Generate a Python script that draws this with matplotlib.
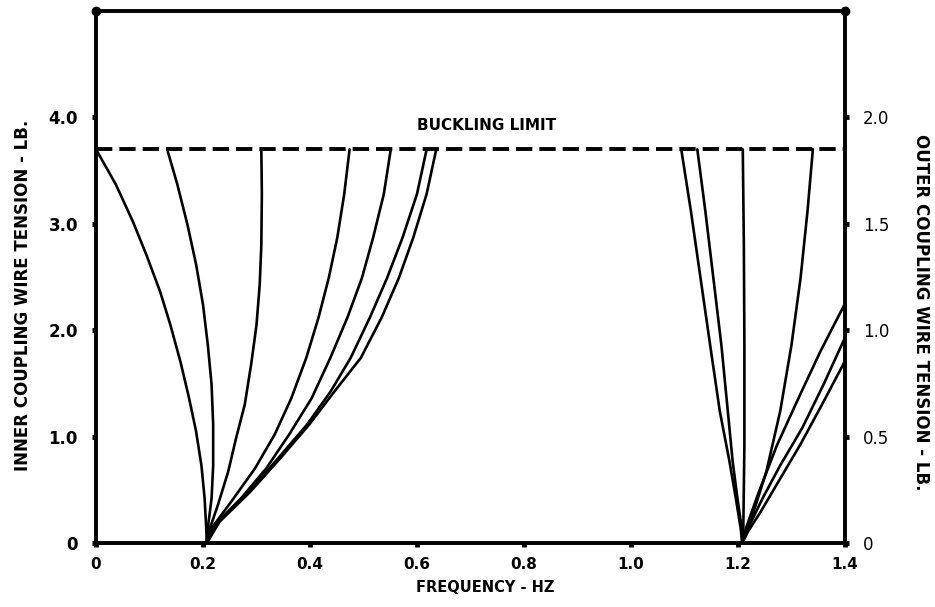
import matplotlib
matplotlib.use("Agg")
import matplotlib.pyplot as plt
import numpy as np

plt.rcParams["font.family"] = ["DejaVu Sans"]
plt.rcParams["font.weight"] = "bold"

# buckling limit (inner wire tension, lb)
BUCKLING = 3.7

# left group of curves, all meeting zero near 0.207 Hz
c1_x = [0.0, 0.037, 0.069, 0.094, 0.120, 0.139, 0.158, 0.174, 0.187, 0.197, 0.203, 0.206, 0.207]
c1_y = [3.7, 3.37, 3.02, 2.71, 2.36, 2.05, 1.70, 1.36, 1.05, 0.73, 0.42, 0.14, 0.0]
c2_x = [0.133, 0.152, 0.171, 0.187, 0.200, 0.209, 0.216, 0.219, 0.219, 0.216, 0.209, 0.207]
c2_y = [3.7, 3.37, 2.99, 2.62, 2.24, 1.86, 1.49, 1.11, 0.73, 0.42, 0.14, 0.0]
c3_x = [0.309, 0.310, 0.309, 0.306, 0.300, 0.290, 0.278, 0.262, 0.247, 0.228, 0.213, 0.207]
c3_y = [3.7, 3.28, 2.80, 2.43, 2.05, 1.68, 1.30, 0.99, 0.67, 0.36, 0.14, 0.0]
c4_x = [0.474, 0.464, 0.451, 0.435, 0.416, 0.393, 0.365, 0.334, 0.297, 0.253, 0.216, 0.207]
c4_y = [3.7, 3.28, 2.87, 2.49, 2.12, 1.74, 1.36, 1.02, 0.70, 0.39, 0.14, 0.0]
c5_x = [0.551, 0.538, 0.518, 0.497, 0.470, 0.438, 0.403, 0.361, 0.318, 0.271, 0.222, 0.207]
c5_y = [3.7, 3.28, 2.87, 2.49, 2.12, 1.74, 1.36, 1.02, 0.70, 0.42, 0.17, 0.0]
c6_x = [0.618, 0.600, 0.573, 0.544, 0.512, 0.476, 0.438, 0.394, 0.341, 0.285, 0.229, 0.207]
c6_y = [3.7, 3.28, 2.87, 2.49, 2.12, 1.74, 1.42, 1.11, 0.80, 0.48, 0.20, 0.0]
c7_x = [0.636, 0.618, 0.593, 0.566, 0.534, 0.495, 0.445, 0.398, 0.345, 0.288, 0.231, 0.207]
c7_y = [3.7, 3.28, 2.87, 2.49, 2.12, 1.74, 1.42, 1.11, 0.80, 0.48, 0.20, 0.0]

# right group, meeting zero near 1.208 Hz
r1_x = [1.094, 1.112, 1.130, 1.148, 1.166, 1.184, 1.196, 1.205, 1.208]
r1_y = [3.7, 3.12, 2.49, 1.86, 1.24, 0.77, 0.42, 0.14, 0.0]
r2_x = [1.124, 1.139, 1.154, 1.169, 1.181, 1.190, 1.199, 1.207, 1.208]
r2_y = [3.7, 3.12, 2.49, 1.86, 1.24, 0.77, 0.42, 0.14, 0.0]
r3_x = [1.209, 1.211, 1.212, 1.212, 1.210, 1.208]
r3_y = [3.7, 2.80, 1.86, 0.92, 0.14, 0.0]
r4_x = [1.340, 1.330, 1.317, 1.300, 1.279, 1.253, 1.229, 1.212, 1.208]
r4_y = [3.7, 3.12, 2.49, 1.86, 1.24, 0.67, 0.29, 0.08, 0.0]
r5_x = [1.4, 1.354, 1.313, 1.273, 1.239, 1.215, 1.208]
r5_y = [2.25, 1.80, 1.36, 0.92, 0.48, 0.14, 0.0]
r6_x = [1.4, 1.360, 1.320, 1.279, 1.246, 1.219, 1.208]
r6_y = [1.93, 1.49, 1.08, 0.73, 0.42, 0.14, 0.0]
r7_x = [1.4, 1.357, 1.316, 1.276, 1.242, 1.219, 1.208]
r7_y = [1.71, 1.30, 0.92, 0.58, 0.29, 0.11, 0.0]

x_ticks = [0, 0.2, 0.4, 0.6, 0.8, 1.0, 1.2, 1.4]
x_labels = ["0", "0.2", "0.4", "0.6", "0.8", "1.0", "1.2", "1.4"]
y_ticks = [0, 1, 2, 3, 4]
y_labels = ["0", "1.0", "2.0", "3.0", "4.0"]
outer_labels = ["0", "0.5", "1.0", "1.5", "2.0"]

fig = plt.figure(figsize=(9.35, 6.07), dpi=100)
ax = fig.add_axes([0.1027, 0.1054, 0.8010, 0.8765])

curves = [(c1_x, c1_y), (c2_x, c2_y), (c3_x, c3_y), (c4_x, c4_y), (c5_x, c5_y),
          (c6_x, c6_y), (c7_x, c7_y), (r1_x, r1_y), (r2_x, r2_y), (r3_x, r3_y),
          (r4_x, r4_y), (r5_x, r5_y), (r6_x, r6_y), (r7_x, r7_y)]
for xs, ys in curves:
    ax.plot(xs, ys, color="black", linewidth=1.9, solid_capstyle="round",
            solid_joinstyle="round")

ax.axhline(BUCKLING, color="black", linewidth=2.8, linestyle=(0, (4.2, 1.8)))
ax.text(0.73, 3.92, "BUCKLING LIMIT", ha="center", va="center", fontsize=11)

ax.set_xlim(0, 1.4)
ax.set_ylim(0, 5)
ax.set_xticks(x_ticks)
ax.set_xticklabels(x_labels)
ax.set_yticks(y_ticks)
ax.set_yticklabels(y_labels)
ax.tick_params(axis="both", direction="out", length=3, width=3.5)
ax.tick_params(axis="x", pad=7, labelsize=11)
ax.tick_params(axis="y", pad=10, labelsize=12)
for s in ax.spines.values():
    s.set_linewidth(2.8)

# blobs on the top corners, as in the original drawing
xl = ax.get_xlim()
yl = ax.get_ylim()
ax.plot(xl, [yl[1], yl[1]], linestyle="none", marker="o", markersize=6,
        color="black", clip_on=False)

ax2 = ax.twinx()
ax2.set_ylim(0, 5)
ax2.set_yticks(y_ticks)
ax2.set_yticklabels(outer_labels, fontweight="normal")
ax2.tick_params(direction="out", length=3, width=3.5, labelsize=12, pad=10)

fig.text(0.5187, 1 - 588 / 607, "FREQUENCY - HZ", ha="center", va="center", fontsize=10.5)
fig.text(23 / 935, 1 - 295 / 607, "INNER COUPLING WIRE TENSION - LB.",
         rotation=90, ha="center", va="center", fontsize=12)
fig.text(921 / 935, 1 - 312 / 607, "OUTER COUPLING WIRE TENSION - LB.",
         rotation=-90, ha="center", va="center", fontsize=12)

fig.savefig("out.png", dpi=100)
